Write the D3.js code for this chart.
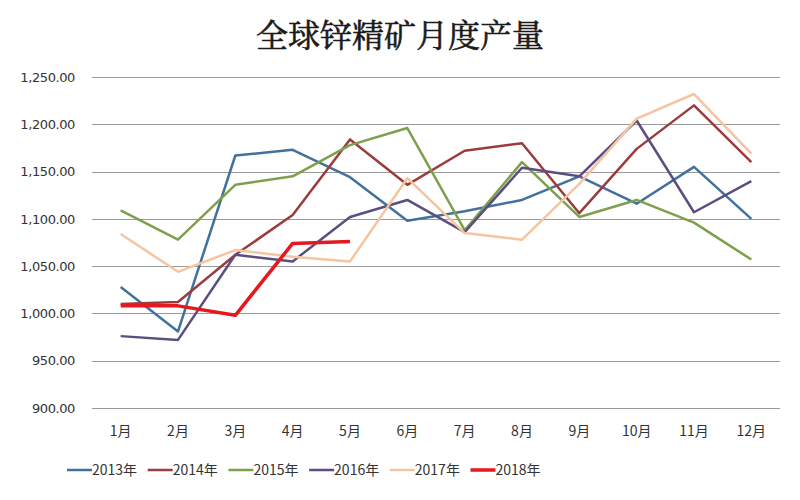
<!DOCTYPE html>
<html><head><meta charset="utf-8">
<script src="https://cdn.jsdelivr.net/npm/d3@7/dist/d3.min.js"></script>
<style>body{margin:0;background:#fff;}svg{display:block;}</style>
</head><body>
<svg id="c" width="800" height="500"></svg>
<script>
const title = "全球锌精矿月度产量";
const months = ["1月","2月","3月","4月","5月","6月","7月","8月","9月","10月","11月","12月"];
const yTicks = [900,950,1000,1050,1100,1150,1200,1250];
const seriesNames = ["2013年","2014年","2015年","2016年","2017年","2018年"];
const s2013 = [1028,981,1167,1173,1144,1098,1108,1120,1145,1116,1155,1100];
const s2014 = [1010,1012,1062,1104,1184,1136,1172,1180,1106,1174,1220,1160];
const s2015 = [1109,1078,1136,1145,1178,1196,1088,1160,1102,1120,1096,1057];
const s2016 = [976,972,1062,1055,1102,1120,1086,1154,1145,1204,1107,1140];
const s2017 = [1084,1044,1067,1060,1055,1143,1085,1078,1137,1206,1232,1169];
const s2018 = [1008,1008,998,1074,1076];
const colors = ["#41719c","#9c3b3d","#7ea04c","#5b4e80","#f4c5a0","#e3191e"];
const widths = [2.5,2.5,2.5,2.5,2.5,3.5];
const allSeries = [s2013,s2014,s2015,s2016,s2017,s2018];

const svg = d3.select("#c");
const font = "'Noto Sans CJK SC','Noto Sans',sans-serif";
const x = d3.scaleBand().domain(months).range([92,780]);
const y = d3.scaleLinear().domain([900,1250]).range([408,77]);

svg.append("text").attr("x",400).attr("y",47).attr("text-anchor","middle")
  .attr("font-family","'Noto Serif CJK SC','Noto Sans CJK SC',serif").attr("font-weight","normal")
  .attr("stroke","#1a1a1a").attr("stroke-width",0.6)
  .attr("font-size",32).attr("fill","#1a1a1a").text(title);

// grid
svg.append("g").selectAll("line").data(yTicks).join("line")
  .attr("x1",92).attr("x2",780).attr("y1",d=>Math.round(y(d))+0.5).attr("y2",d=>Math.round(y(d))+0.5)
  .attr("stroke","#9a9a9a").attr("stroke-width",1.2);

// y axis labels
const yAxis = d3.axisLeft(y).tickValues(yTicks).tickSize(0).tickPadding(0)
  .tickFormat(d=>d3.format(",.2f")(d));
const gy = svg.append("g").attr("transform","translate(75,0)").call(yAxis);
gy.select(".domain").remove();
gy.selectAll("text").attr("font-family","'DejaVu Sans',sans-serif").attr("font-size",13)
  .attr("letter-spacing",-0.4).attr("fill","#333");

// x axis labels
const xAxis = d3.axisBottom(x).tickSize(0).tickPadding(0);
const gx = svg.append("g").attr("transform","translate(0,426)").call(xAxis);
gx.select(".domain").remove();
gx.selectAll("text").attr("font-family",font).attr("font-size",14).attr("fill","#333");

// lines
const line = d3.line().x((d,i)=>x(months[i])+x.bandwidth()/2).y(d=>y(d));
allSeries.forEach((s,k)=>{
  svg.append("path").datum(s).attr("d",line).attr("fill","none")
    .attr("stroke",colors[k]).attr("stroke-width",widths[k]).attr("stroke-linejoin","round");
});

// legend
const lg = svg.append("g");
seriesNames.forEach((n,k)=>{
  const lx = 67 + k*80.7;
  lg.append("line").attr("x1",lx).attr("x2",lx+25).attr("y1",470).attr("y2",470)
    .attr("stroke",colors[k]).attr("stroke-width",widths[k]);
  lg.append("text").attr("x",lx+25).attr("y",475).attr("font-family",font)
    .attr("font-size",14).attr("fill","#333").text(n);
});
</script>
</body></html>
